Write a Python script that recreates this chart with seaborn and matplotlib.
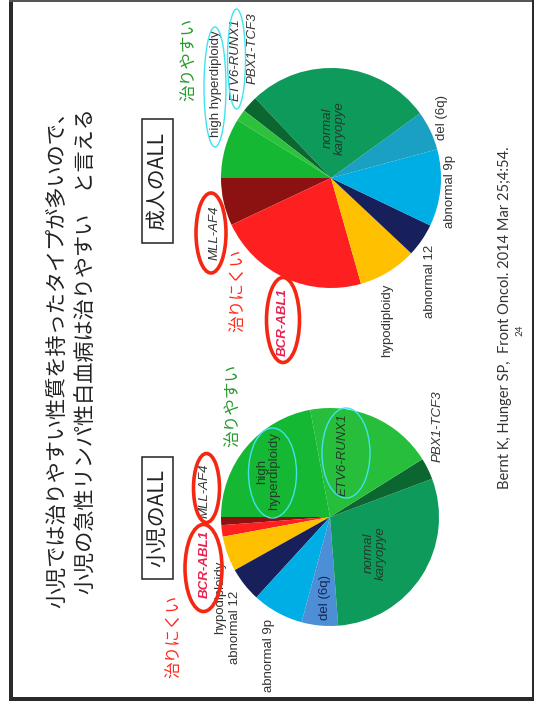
import matplotlib
matplotlib.use("Agg")
import matplotlib.pyplot as plt
from matplotlib.patches import Ellipse, Rectangle
import seaborn as sns

# Karyotype subgroups of ALL (pie order, starting at the left and running
# anticlockwise on the page)
categories = ["MLL-AF4", "BCR-ABL1", "hypodiploidy", "abnormal 12", "abnormal 9p",
              "del (6q)", "normal karyopye", "PBX1-TCF3", "ETV6-RUNX1",
              "high hyperdiploidy"]
adult_share = [7.0, 22.4, 8.6, 4.9, 11.3, 5.8, 27.1, 2.4, 1.7, 8.8]
child_share = [1.2, 1.7, 5.2, 5.1, 7.6, 5.4, 29.5, 3.2, 19.0, 22.1]

adult_colors = ["#8c1212", "#fe2020", "#ffc000", "#18205c", "#00aee6",
                "#1aa0c2", "#0d9a5b", "#0b6630", "#2ec23c", "#14b833"]
child_colors = ["#8c1212", "#fe2020", "#ffc000", "#18205c", "#00aee6",
                "#4d8fd6", "#0d9a5b", "#0b6630", "#27be3b", "#14b833"]

title_lines = ["小児では治りやすい性質を持ったタイプが多いので、",
               "小児の急性リンパ性白血病は治りやすい　と言える"]
panel_titles = ["成人のALL", "小児のALL"]
easy_text = "治りやすい"
hard_text = "治りにくい"
citation = "Bernt K, Hunger SP,  Front Oncol. 2014 Mar 25;4:54."
page_no = "24"

sns.set_theme(style="white")
plt.rcParams["font.family"] = ["Liberation Sans", "DejaVu Sans"]
JP = ["Noto Sans CJK JP", "DejaVu Sans"]

fig = plt.figure(figsize=(5.34, 7.01), dpi=100)
fig.patch.set_facecolor("white")
ax = fig.add_axes([0, 0, 1, 1])

pie_kw = dict(startangle=180, counterclock=False, wedgeprops=dict(linewidth=0))
ax.pie(adult_share, colors=adult_colors, center=(331, 178), radius=110, **pie_kw)
ax.pie(child_share, colors=child_colors, center=(330, 517), radius=109, **pie_kw)

ax.set_xlim(0, 534)
ax.set_ylim(701, 0)
ax.set_aspect("equal")
ax.axis("off")


def vtext(x, y, s, size=9.5, color="#333333", **kw):
    ax.text(x, y, s, rotation=90, ha="center", va="center", fontsize=size,
            color=color, multialignment="center", linespacing=1.05, **kw)


def ring(x, y, w, h, color, lw):
    ax.add_patch(Ellipse((x, y), w, h, fill=False, edgecolor=color, lw=lw, zorder=5))


lab = dict(zip(categories, categories))
dark_in = "#233a2c"
pink = "#e8224f"

# adult pie labels
vtext(216, 84, lab["high hyperdiploidy"])
vtext(236, 60, lab["ETV6-RUNX1"], style="italic")
vtext(253, 48, lab["PBX1-TCF3"], style="italic")
vtext(334, 128, lab["normal karyopye"].replace(" ", "\n"), style="italic", color=dark_in)
vtext(442, 118, lab["del (6q)"])
vtext(450, 192, lab["abnormal 9p"])
vtext(430, 281, lab["abnormal 12"])
vtext(387, 320, lab["hypodiploidy"])
vtext(215, 233, lab["MLL-AF4"], style="italic")
vtext(283, 322, lab["BCR-ABL1"], style="italic", weight="bold", color=pink)

# child pie labels
vtext(268, 471, lab["high hyperdiploidy"].replace(" ", "\n"), color=dark_in)
vtext(343, 455, lab["ETV6-RUNX1"], style="italic", color=dark_in)
vtext(438, 426, lab["PBX1-TCF3"], style="italic")
vtext(375, 553, lab["normal karyopye"].replace(" ", "\n"), style="italic", color=dark_in)
vtext(325, 597, lab["del (6q)"], color="#1b2450")
vtext(269, 655, lab["abnormal 9p"])
vtext(235, 627, lab["abnormal 12"])
vtext(220, 597, lab["hypodiploidy"])
vtext(205, 564, lab["BCR-ABL1"], style="italic", weight="bold", color=pink)
vtext(205, 491, lab["MLL-AF4"], style="italic")

# highlight rings
cyan, red = "#3ee4ee", "#f42812"
ring(215, 87, 22, 120, cyan, 1.0)
ring(236.5, 59, 18, 100, cyan, 1.0)
ring(272.5, 473, 48, 90, cyan, 1.0)
ring(346, 453, 48, 90, cyan, 1.0)
ring(211, 233, 30, 80, red, 2.6)
ring(283, 320, 33, 85, red, 2.6)
ring(203.5, 568, 37, 87, red, 2.6)
ring(206.5, 488, 26, 69, red, 2.6)

# prognosis notes
vtext(190, 59, easy_text, size=12, color="#249a2a", family=JP)
vtext(238, 290, hard_text, size=12, color="#ff2a1a", family=JP)
vtext(234, 405, easy_text, size=12, color="#249a2a", family=JP)
vtext(174, 636, hard_text, size=12, color="#ff2a1a", family=JP)

# slide heading
vtext(57, 355, title_lines[0], size=15.2, color="#222222", family=JP)
vtext(86, 351, title_lines[1], size=15.2, color="#222222", family=JP)

# panel title boxes
for (y0, y1), t in zip([(119, 243), (457, 579)], panel_titles):
    ax.add_patch(Rectangle((142, y0), 31, y1 - y0, fill=False, edgecolor="#222222", lw=1.1))
    vtext(157.5, (y0 + y1) / 2, t, size=15, color="#222222", family=JP)

# citation and page number
vtext(505, 318, citation, size=10.5, color="#333333", family=["Lato", "DejaVu Sans"])
vtext(520, 330, page_no, size=7, color="#333333", family=["Lato", "DejaVu Sans"])

# slide frame
frame = "#2a2a2a"
ax.add_patch(Rectangle((9, 0), 3.5, 701, color=frame, lw=0))
ax.add_patch(Rectangle((9, 697), 525, 4, color=frame, lw=0))
ax.add_patch(Rectangle((9, 0), 525, 1.8, color="#555555", lw=0))
ax.add_patch(Rectangle((532.3, 0), 1.7, 701, color=frame, lw=0))

fig.savefig("out.png", dpi=100, facecolor="white")
